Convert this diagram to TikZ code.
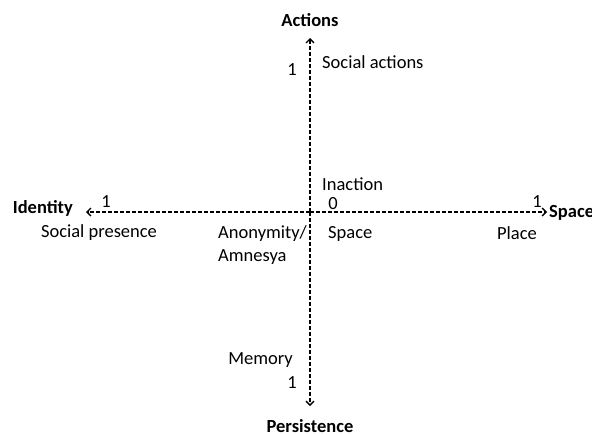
\documentclass[tikz,border=0pt]{standalone}
\usepackage{fontspec}
\setmainfont{Carlito}
\usetikzlibrary{arrows.meta}
\begin{document}
\begin{tikzpicture}[x=1pt,y=-1pt,
  axis/.style={line width=1.4pt,dash pattern=on 4pt off 2pt,-{Straight Barb[length=4pt,width=8pt,line width=1.4pt]}},
  lbl/.style={font=\fontsize{18.5}{23}\selectfont,inner sep=0pt},
  bold/.style={lbl,font=\fontsize{18.5}{23}\selectfont\bfseries}]
\useasboundingbox (0,0) rectangle (592,434);
\coordinate (o) at (310,212);
\coordinate (top) at (310,38);
\coordinate (bot) at (310,406);
\coordinate (lft) at (86,212);
\coordinate (rgt) at (547,212);
\draw[axis] (o) -- (top);
\draw[axis] (o) -- (bot);
\draw[axis] (o) -- (lft);
\draw[axis] (o) -- (rgt);
\node[bold] (act) at (310,20) {Actions};
\node[bold,anchor=south] (per) at (310,433) {Persistence};
\node[bold,anchor=east] (idn) at (73,208) {Identity};
\node[bold,anchor=west] (spc) at (549,213) {Space};
\node[lbl] (a1) at (292,70) {1};
\node[lbl,anchor=west] (sa) at (322,62) {Social actions};
\node[lbl,anchor=west] (ina) at (322,184) {Inaction};
\node[lbl] (z) at (333,204) {0};
\node[lbl] (l1) at (106,202) {1};
\node[lbl] (r1) at (537,202) {1};
\node[lbl] (sp) at (99,233) {Social presence};
\node[lbl,anchor=west,align=left] (an) at (218,245) {Anonymity/\\Amnesya};
\node[lbl,anchor=west] (sp2) at (328,234) {Space};
\node[lbl] (pl) at (517,233) {Place};
\node[lbl,anchor=east] (mem) at (293,360) {Memory};
\node[lbl] (p1) at (292,383) {1};
\end{tikzpicture}
\end{document}
